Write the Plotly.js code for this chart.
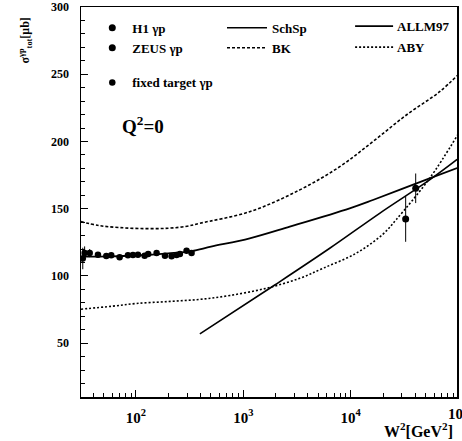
<!DOCTYPE html>
<html>
<head>
<meta charset="utf-8">
<script src="https://cdn.plot.ly/plotly-3.0.1.min.js"></script>
<style>html,body{margin:0;padding:0;background:#fff;}#chart{width:462px;height:441px;}</style>
</head>
<body>
<div id="chart"></div>
<script>
// ---- data (W^2 in GeV^2, sigma in microbarn) ----
const fixedW2  = [32, 33.3, 37.1, 44.3, 53, 58.9, 70.5, 84.3, 93.8, 104.4, 120.5, 130.1, 155.8, 186.4, 214.9, 239.2, 256.6, 296.2, 329.7];
const fixedSig = [113, 117, 117, 115.8, 114.9, 115.4, 114, 115.4, 115.6, 115.8, 115.1, 116.4, 117.1, 115.1, 114.6, 115.6, 116.4, 118.8, 117.1];
const fixedErr = [8, 5, 3, 2, 2, 2, 2, 2, 2, 2, 2, 2, 2, 2, 2, 2, 2, 2, 2];

const h1W2 = [40300];
const h1Sig = [165.2];
const h1Err = [11];

const zeusW2 = [32500];
const zeusSig = [142.4];
const zeusErr = [17];

const allmW2  = [30.8, 60, 100, 200, 330, 500, 1148, 2710, 9790, 16100, 54300, 98000];
const allmSig = [114.4, 114.5, 115.2, 116.8, 118.5, 121.8, 128, 136.7, 150.3, 156.5, 172.6, 180.3];

const schspW2  = [394, 1963, 6380, 18600, 54300, 98000];
const schspSig = [56.9, 93.3, 120.6, 146.6, 171.4, 186.6];

const bkW2  = [30.8, 45, 70, 120, 200, 300, 394, 1148, 3357, 7910, 16100, 33000, 67300, 99500];
const bkSig = [140.4, 137.5, 136, 135.2, 135.5, 137, 139.2, 147.8, 164, 181.3, 199.9, 219.7, 237, 249.4];

const abyW2  = [30.8, 60, 100, 200, 394, 750, 1644, 3357, 5520, 11300, 19900, 26600, 54300, 99000];
const abySig = [75.3, 77.5, 79.5, 81, 82.6, 85.5, 90.9, 98.3, 105.7, 117, 131, 142, 172.6, 204.8];

const xTickVals = [100, 1000, 10000];
const xTickText = ['10<sup>2</sup>', '10<sup>3</sup>', '10<sup>4</sup>'];

// ---- styling ----
const F = 'Liberation Serif, Times New Roman, serif';
const legFont = {family: F, size: 13, weight: 'bold', color: '#000'};

const xMinor = [];
[10, 100, 1000, 10000].forEach(d => { for (let k = 2; k <= 9; k++) xMinor.push(d * k); });

const styleALLM = {color: '#000', width: 1.8};
const styleABY = {color: '#000', width: 1.6, dash: '2px,2px'};

const traces = [
  {x: h1W2, y: h1Sig, type: 'scatter', mode: 'markers', name: 'H1 γp', legend: 'legend',
   marker: {color: '#000', size: 7}, error_y: {type: 'data', array: h1Err, thickness: 1, width: 0, color: '#000'}},
  {x: zeusW2, y: zeusSig, type: 'scatter', mode: 'markers', name: 'ZEUS γp', legend: 'legend',
   marker: {color: '#000', size: 7}, error_y: {type: 'data', array: zeusErr, thickness: 1, width: 0, color: '#000'}},
  {x: fixedW2, y: fixedSig, type: 'scatter', mode: 'markers', name: 'fixed target γp', legend: 'legend2',
   marker: {color: '#000', size: 6.5}, error_y: {type: 'data', array: fixedErr, thickness: 1, width: 0, color: '#000'}},
  {x: schspW2, y: schspSig, type: 'scatter', mode: 'lines', name: 'SchSp', legend: 'legend3',
   line: {color: '#000', width: 1.6, shape: 'spline'}},
  {x: bkW2, y: bkSig, type: 'scatter', mode: 'lines', name: 'BK', legend: 'legend3',
   line: {color: '#000', width: 1.6, dash: '3px,2px', shape: 'spline'}},
  {x: allmW2, y: allmSig, type: 'scatter', mode: 'lines', name: 'ALLM97', showlegend: false,
   line: Object.assign({shape: 'spline'}, styleALLM)},
  {x: abyW2, y: abySig, type: 'scatter', mode: 'lines', name: 'ABY', showlegend: false,
   line: Object.assign({shape: 'spline'}, styleABY)}
];

function leg(x, y) {
  return {x: x, y: y, xanchor: 'left', yanchor: 'top', bgcolor: 'rgba(0,0,0,0)', borderwidth: 0,
          font: legFont, itemwidth: 30, tracegroupgap: 0};
}

// legend keys for the right-hand legend column (placed in paper coordinates)
const keyX0 = 0.729, keyX1 = 0.830, keyY1 = 0.951, keyY2 = 0.897;

const layout = {
  width: 462, height: 441,
  margin: {l: 81, r: 5, t: 7, b: 44, autoexpand: false},
  paper_bgcolor: '#fff', plot_bgcolor: '#fff',
  showlegend: true,
  legend: leg(0.03, 0.985),
  legend2: leg(0.03, 0.845),
  legend3: Object.assign(leg(0.375, 0.985), {itemwidth: 40}),
  xaxis: {
    type: 'log', range: [Math.log10(30.8), 4.99],
    tickmode: 'array', tickvals: xTickVals, ticktext: xTickText,
    ticks: 'inside', ticklen: 7, tickwidth: 1, tickcolor: '#000',
    minor: {tickmode: 'array', tickvals: xMinor, ticks: 'inside', ticklen: 4, tickwidth: 1, tickcolor: '#000'},
    showline: true, linecolor: '#000', linewidth: 1.5, mirror: true,
    showgrid: false, zeroline: false, automargin: false,
    tickfont: {family: F, size: 15, weight: 'bold', color: '#000'},
    ticklabelstandoff: 6
  },
  yaxis: {
    range: [10, 300], tick0: 0, dtick: 50,
    ticks: 'inside', ticklen: 7, tickwidth: 1, tickcolor: '#000',
    minor: {dtick: 10, ticks: 'inside', ticklen: 4, tickwidth: 1, tickcolor: '#000'},
    showline: true, linecolor: '#000', linewidth: 1.5, mirror: true,
    showgrid: false, zeroline: false, automargin: false,
    tickfont: {family: F, size: 12, weight: 'bold', color: '#000'},
    ticklabelstandoff: 8
  },
  shapes: [
    {type: 'line', xref: 'paper', yref: 'paper', x0: keyX0, x1: keyX1, y0: keyY1, y1: keyY1, line: styleALLM},
    {type: 'line', xref: 'paper', yref: 'paper', x0: keyX0, x1: keyX1, y0: keyY2, y1: keyY2, line: styleABY}
  ],
  annotations: [
    {text: 'ALLM97', xref: 'paper', yref: 'paper', x: keyX1 + 0.005, y: keyY1, xanchor: 'left', yanchor: 'middle',
     showarrow: false, font: legFont},
    {text: 'ABY', xref: 'paper', yref: 'paper', x: keyX1 + 0.005, y: keyY2, xanchor: 'left', yanchor: 'middle',
     showarrow: false, font: legFont},
    {text: 'Q<sup>2</sup>=0', xref: 'paper', yref: 'paper', x: 0.165, y: 0.697, xanchor: 'center', yanchor: 'middle',
     showarrow: false, font: {family: F, size: 19, weight: 'bold', color: '#000'}},
    {text: 'σ<sup>γp</sup><sub>tot</sub>[μb]', xref: 'paper', yref: 'paper', x: -0.148, y: 0.915,
     xanchor: 'center', yanchor: 'middle',
     textangle: -90, showarrow: false, font: {family: F, size: 12, weight: 'bold', color: '#000'}},
    {text: 'W<sup>2</sup>[GeV<sup>2</sup>]', xref: 'paper', yref: 'paper', x: 0.995, y: -0.085,
     xanchor: 'right', yanchor: 'middle', showarrow: false, font: {family: F, size: 16, weight: 'bold', color: '#000'}},
    {text: '10<sup>5</sup>', xref: 'paper', yref: 'paper', x: 0.971, y: -0.04,
     xanchor: 'left', yanchor: 'middle', showarrow: false, font: {family: F, size: 15, weight: 'bold', color: '#000'}}
  ]
};

Plotly.newPlot('chart', traces, layout, {displayModeBar: false, staticPlot: true});
</script>
</body>
</html>
